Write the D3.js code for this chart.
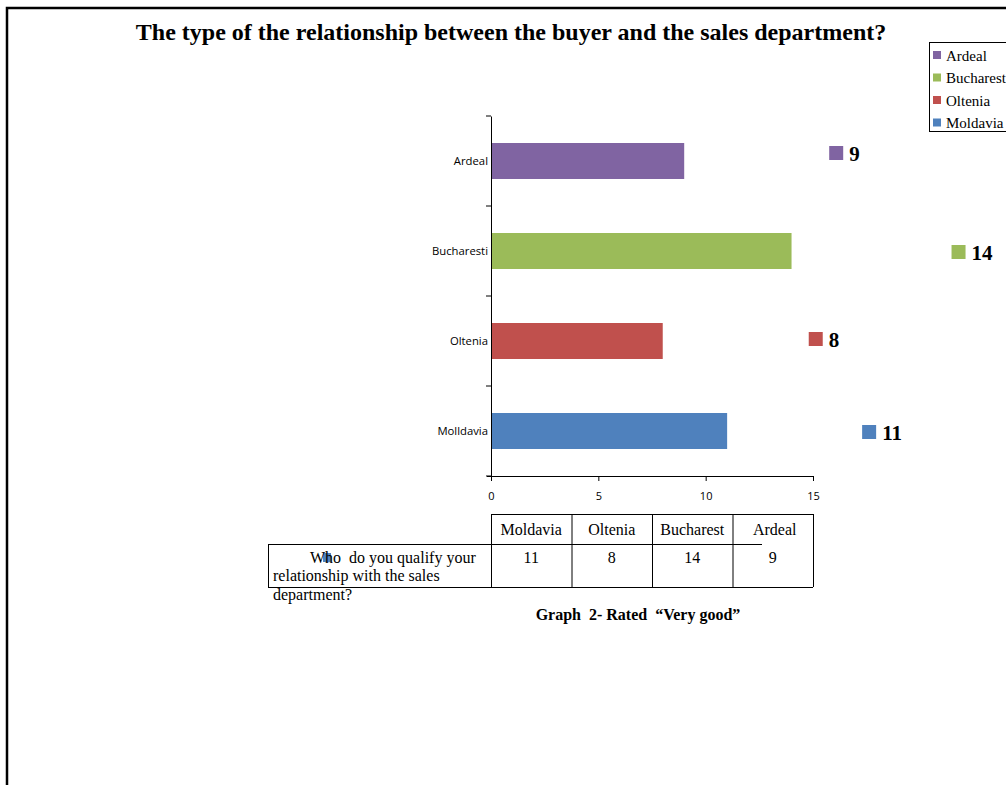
<!DOCTYPE html>
<html>
<head>
<meta charset="utf-8">
<script src="https://cdn.jsdelivr.net/npm/d3@7"></script>
<style>
html,body{margin:0;padding:0;background:#fff;}
svg{display:block;}
text{white-space:pre;}
</style>
</head>
<body>
<script>
// ---- data ----
const categories = ["Ardeal", "Bucharesti", "Oltenia", "Molldavia"]; // axis labels, top to bottom
const values = [9, 14, 8, 11];
const barColors = ["#8064A2", "#9BBB59", "#C0504D", "#4F81BD"];
const xTicks = [0, 5, 10, 15];
const legendLabels = ["Ardeal", "Bucharest", "Oltenia", "Moldavia"];
const tableHeaders = ["Moldavia", "Oltenia", "Bucharest", "Ardeal"];
const tableValues = [11, 8, 14, 9];
const tableColors = ["#4F81BD", "#C0504D", "#9BBB59", "#8064A2"];
const rowLabelLines = ["Who  do you qualify your", "relationship with the sales", "department?"];
const titleText = "The type of the relationship between the buyer and the sales department?";
const captionText = "Graph  2- Rated  \u201cVery good\u201d";
// layout nudges for the floating value labels (relative to bar end / bar centre)
const labelDx = [145, 160, 146, 135];
const labelDy = [-8, 1, -2, 1];

const W = 1006, H = 785;
const svg = d3.select("body").append("svg").attr("width", W).attr("height", H);
svg.append("rect").attr("width", W).attr("height", H).attr("fill", "#fff");

// page frame
svg.append("path").attr("d", `M7,${H} V8 H${W}`).attr("fill", "none").attr("stroke", "#000").attr("stroke-width", 2.5);

// title
svg.append("text").attr("x", 511).attr("y", 40).attr("text-anchor", "middle")
  .attr("font-family", "Liberation Serif, Times New Roman, serif").attr("font-weight", "bold")
  .attr("font-size", 24).attr("fill", "#000").text(titleText);

// scales
const x = d3.scaleLinear().domain([0, 15]).range([491, 813]);
const y = d3.scaleBand().domain(categories).range([116, 476]).paddingInner(0.6).paddingOuter(0.3);

// bars
svg.append("g").selectAll("rect").data(categories).join("rect")
  .attr("x", x(0)).attr("y", d => y(d))
  .attr("width", (d, i) => x(values[i]) - x(0)).attr("height", y.bandwidth())
  .attr("fill", (d, i) => barColors[i]);

// y axis
const yAxis = d3.axisLeft(y).tickSize(0).tickPadding(3);
const gy = svg.append("g").attr("transform", `translate(${x(0)},0)`).call(yAxis);
gy.select(".domain").attr("stroke", "#000").attr("stroke-width", 1);
gy.selectAll("text").attr("font-family", "Open Sans, sans-serif").attr("font-size", 11.3).attr("fill", "#000");
// y tick marks between categories
const yStep = y.step();
const yBounds = d3.range(categories.length + 1).map(i => 116 + i * yStep);
svg.append("g").selectAll("line").data(yBounds).join("line")
  .attr("x1", x(0) - 5).attr("x2", x(0)).attr("y1", d => d).attr("y2", d => d)
  .attr("stroke", "#000").attr("stroke-width", 1);

// x axis
const xAxis = d3.axisBottom(x).tickValues(xTicks).tickSize(5).tickSizeOuter(0).tickPadding(11);
const gx = svg.append("g").attr("transform", `translate(0,476)`).call(xAxis);
gx.select(".domain").attr("d", `M${x(0) - 4},0.5H${x(15)}`).attr("stroke", "#000");
gx.selectAll(".tick line").attr("stroke", "#000");
gx.selectAll("text").attr("font-family", "Open Sans, sans-serif").attr("font-size", 11).attr("fill", "#000");

// floating value labels
const lab = svg.append("g").selectAll("g").data(categories).join("g")
  .attr("transform", (d, i) => `translate(${x(values[i]) + labelDx[i]},${y(d) + y.bandwidth() / 2 + labelDy[i]})`);
lab.append("rect").attr("x", 0).attr("y", -7).attr("width", 14).attr("height", 14)
  .attr("fill", (d, i) => barColors[i]);
lab.append("text").attr("x", 20).attr("y", 8)
  .attr("font-family", "Liberation Serif, Times New Roman, serif").attr("font-weight", "bold")
  .attr("font-size", 21).attr("fill", "#000").text((d, i) => values[i]);

// legend
const leg = svg.append("g").attr("transform", "translate(929,42)");
leg.append("rect").attr("x", 0.5).attr("y", 0.5).attr("width", 100).attr("height", 89)
  .attr("fill", "#fff").attr("stroke", "#000").attr("stroke-width", 1);
const li = leg.selectAll("g.li").data(legendLabels).join("g").attr("class", "li")
  .attr("transform", (d, i) => `translate(0,${13 + i * 22.5})`);
li.append("rect").attr("x", 4).attr("y", -4).attr("width", 8).attr("height", 8)
  .attr("fill", (d, i) => barColors[i]);
li.append("text").attr("x", 17).attr("y", 5.5)
  .attr("font-family", "Liberation Serif, Times New Roman, serif").attr("font-size", 15)
  .attr("fill", "#000").text(d => d);

// data table
const tx = d3.scaleBand().domain(tableHeaders).range([491, 813]);
const tTop = 514, tMid = 544, tBot = 587;
const tg = svg.append("g").attr("stroke", "#000").attr("stroke-width", 1).attr("fill", "none");
tg.append("line").attr("x1", 491).attr("x2", 813).attr("y1", tTop + 0.5).attr("y2", tTop + 0.5);
tg.append("line").attr("x1", 268).attr("x2", 762).attr("y1", tMid + 0.5).attr("y2", tMid + 0.5);
tg.append("line").attr("x1", 268).attr("x2", 813).attr("y1", tBot + 0.5).attr("y2", tBot + 0.5);
tg.append("line").attr("x1", 268.5).attr("x2", 268.5).attr("y1", tMid).attr("y2", tBot);
tg.selectAll("line.v").data(tableHeaders.concat(["end"])).join("line").attr("class", "v")
  .attr("x1", (d, i) => (i < tableHeaders.length ? tx(d) : 813) + 0.5)
  .attr("x2", (d, i) => (i < tableHeaders.length ? tx(d) : 813) + 0.5)
  .attr("y1", tTop).attr("y2", tBot);

const tfont = "Liberation Serif, Times New Roman, serif";
svg.append("g").selectAll("text").data(tableHeaders).join("text")
  .attr("x", (d, i) => tx(d) + tx.bandwidth() / 2 + (i === 3 ? 2 : 0)).attr("y", 535)
  .attr("text-anchor", "middle").attr("font-family", tfont).attr("font-size", 16).attr("fill", "#000")
  .text(d => d);
svg.append("g").selectAll("text").data(tableValues).join("text")
  .attr("x", (d, i) => tx(tableHeaders[i]) + tx.bandwidth() / 2).attr("y", 563)
  .attr("text-anchor", "middle").attr("font-family", tfont).attr("font-size", 16).attr("fill", "#000")
  .text(d => d);

// row label with legend key
svg.append("rect").attr("x", 323).attr("y", 553).attr("width", 8).attr("height", 9).attr("fill", tableColors[0]);
svg.append("g").selectAll("text").data(rowLabelLines).join("text")
  .attr("x", (d, i) => i === 0 ? 310 : 273).attr("y", (d, i) => [563, 581, 600][i])
  .attr("font-family", tfont).attr("font-size", 16).attr("fill", "#000")
  .text(d => d);

// caption
svg.append("text").attr("x", 638).attr("y", 620).attr("text-anchor", "middle")
  .attr("font-family", tfont).attr("font-weight", "bold").attr("font-size", 16).attr("fill", "#000")
  .text(captionText);
</script>
</body>
</html>
